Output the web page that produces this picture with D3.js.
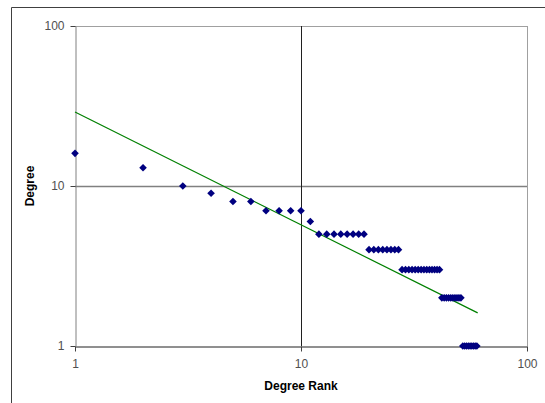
<!DOCTYPE html>
<html><head><meta charset="utf-8">
<script src="https://cdn.jsdelivr.net/npm/d3@7"></script>
<style>
body{margin:0;background:#fff;}
svg{display:block;font-family:Arial,"Liberation Sans",sans-serif;}
</style></head>
<body>
<svg id="c" width="545" height="403"></svg>
<script>
const ranks = [1,2,3,4,5,6,7,8,9,10,11,12,13,14,15,16,17,18,19,20,21,22,23,24,25,26,27,28,29,30,31,32,33,34,35,36,37,38,39,40,41,42,43,44,45,46,47,48,49,50,51,52,53,54,55,56,57,58,59,60];
const degrees = [16,13,10,9,8,8,7,7,7,7,6,5,5,5,5,5,5,5,5,4,4,4,4,4,4,4,4,3,3,3,3,3,3,3,3,3,3,3,3,3,3,2,2,2,2,2,2,2,2,2,2,1,1,1,1,1,1,1,1,1];
const trendX = [1, 60.5];
const trendY = [29, 1.61];
const xTicks = [1,10,100];
const yTicks = [1,10,100];

const svg = d3.select("#c");
const L=75, R=527, T=26, B=346;
const x = d3.scaleLog().domain([1,100]).range([L,R]);
const y = d3.scaleLog().domain([1,100]).range([B,T]);

// outer chart border (partially visible)
svg.append("path").attr("d","M11.5,403 V7.5 H545").attr("fill","none").attr("stroke","#404040").attr("stroke-width",1);

// plot frame top/right
svg.append("line").attr("x1",L).attr("x2",R+0.5).attr("y1",T+0.5).attr("y2",T+0.5).attr("stroke","#a0a0a0");
svg.append("line").attr("x1",R+0.5).attr("x2",R+0.5).attr("y1",T).attr("y2",B).attr("stroke","#a0a0a0");

// gridlines
svg.append("line").attr("x1",L).attr("x2",R).attr("y1",Math.round(y(10))+0.5).attr("y2",Math.round(y(10))+0.5).attr("stroke","#808080").attr("stroke-width",1.5);
svg.append("line").attr("x1",Math.round(x(10))+0.5).attr("x2",Math.round(x(10))+0.5).attr("y1",T).attr("y2",B).attr("stroke","#202020");

// axes
const xAxis = d3.axisBottom(x).tickValues(xTicks).tickFormat(d3.format("d")).tickSize(5).tickSizeOuter(0);
const gx = svg.append("g").attr("transform",`translate(0,${B+0.5})`).call(xAxis);
gx.select(".domain").attr("stroke","#202020");
gx.selectAll(".tick line").attr("stroke","#404040");
gx.selectAll("text").attr("fill","#505050").attr("font-size","12px").attr("dy","1.1em").attr("font-family","Arial,'Liberation Sans',sans-serif");

const yAxis = d3.axisLeft(y).tickValues(yTicks).tickFormat(d3.format("d")).tickSize(5).tickSizeOuter(0);
const gy = svg.append("g").attr("transform",`translate(${L+0.5},0)`).call(yAxis);
gy.select(".domain").attr("stroke","#808080");
gy.selectAll(".tick line").attr("stroke","#404040");
gy.selectAll("text").attr("fill","#505050").attr("font-size","12px").attr("x",-11).attr("font-family","Arial,'Liberation Sans',sans-serif");

// trend line
svg.append("line").attr("x1",x(trendX[0])).attr("y1",y(trendY[0])).attr("x2",x(trendX[1])).attr("y2",y(trendY[1]))
  .attr("stroke","#008000").attr("stroke-width",1.2);

// points (diamonds)
const pts = ranks.map((r,i)=>({r, d:degrees[i]}));
svg.append("g").selectAll("path").data(pts).join("path")
  .attr("d","M0,-3.8 L3.8,0 L0,3.8 L-3.8,0 Z")
  .attr("transform",d=>`translate(${x(d.r)},${y(d.d)})`)
  .attr("fill","#000080");

// titles
svg.append("text").attr("x",301).attr("y",390).attr("text-anchor","middle")
  .attr("font-size","12px").attr("font-weight","bold").text("Degree Rank");
svg.append("text").attr("transform","translate(34,186) rotate(-90)").attr("text-anchor","middle")
  .attr("font-size","12px").attr("font-weight","bold").text("Degree");
</script>
</body></html>
